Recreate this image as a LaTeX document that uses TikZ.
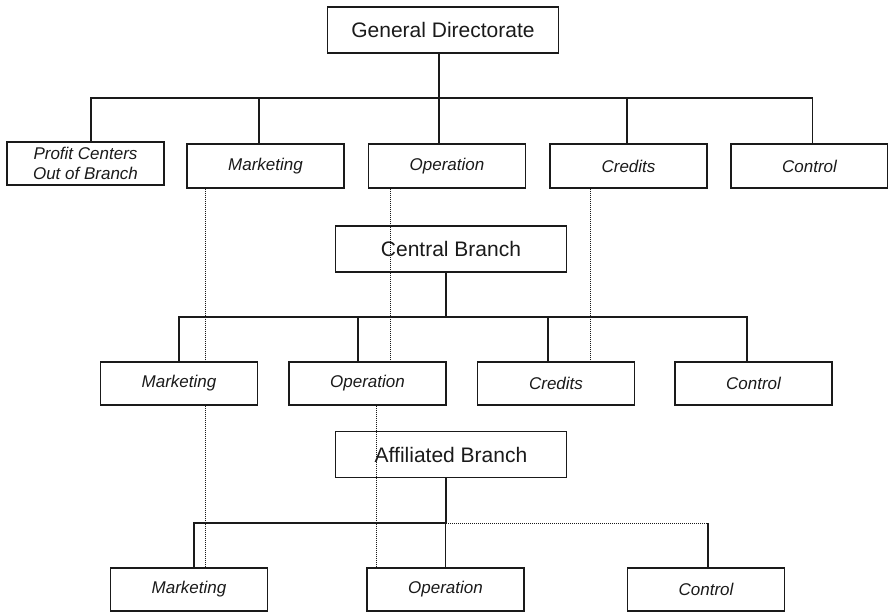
\documentclass[tikz,border=0pt]{standalone}
\usepackage{fontspec}
\setmainfont{Liberation Sans}
\usetikzlibrary{positioning,calc}
\definecolor{ink}{HTML}{1A1A1A}

\begin{document}
\begin{tikzpicture}[x=1pt, y=-1pt,
  text=ink,
  head/.style={draw=ink, line width=1.4pt, minimum width=231pt, minimum height=46pt, inner sep=0pt, font=\fontsize{21}{25}\selectfont},
  unit/.style={draw=ink, line width=1.4pt, minimum width=157pt, minimum height=43pt, inner sep=0pt, align=center, font=\fontsize{17}{20}\selectfont\itshape},
  tree/.style={draw=ink, line width=1.3pt},
  link/.style={draw=ink, line width=0.8pt, dash pattern=on 1pt off 1pt}
]
\useasboundingbox (0,0) rectangle (888,611);

% ---- general directorate
\node[head] (gd) at (443,30) {General Directorate};
\node[unit] (pc)  at (85.5,163.5) {Profit Centers\\Out of Branch};
\node[unit, minimum height=44pt] (mk1) at (265.5,166) {Marketing};
\node[unit, minimum height=44pt] (op1) at (447,166) {Operation};
\node[unit, minimum height=44pt] (cr1) at (628.5,166) {Credits};
\node[unit, minimum height=44pt] (ct1) at (809.5,166) {Control};
\coordinate (bar1) at (439,98);
\foreach \n/\dx in {pc/5.5, mk1/-6.5, op1/-8, cr1/-1.5, ct1/3}
  \draw[tree] ([xshift=-4pt]gd.south) -- ([xshift=-4pt]gd.south |- bar1) -| ([xshift=\dx pt]\n.north);

% ---- central branch
\node[head] (cb) at (451,249) {Central Branch};
\node[unit] (mk2) at (179,383.5) {Marketing};
\node[unit] (op2) at (367.5,383.5) {Operation};
\node[unit] (cr2) at (556,383.5) {Credits};
\node[unit] (ct2) at (753.5,383.5) {Control};
\coordinate (bar2) at (446,317);
\foreach \n/\dx in {mk2/0, op2/-9.5, cr2/-8, ct2/-6.5}
  \draw[tree] ([xshift=-5pt]cb.south) -- ([xshift=-5pt]cb.south |- bar2) -| ([xshift=\dx pt]\n.north);

% ---- affiliated branch
\node[head] (ab) at (451,454.5) {Affiliated Branch};
\node[unit] (mk3) at (189,589.5) {Marketing};
\node[unit] (op3) at (445.5,589.5) {Operation};
\node[unit] (ct3) at (706,589.5) {Control};
\coordinate (bar3) at (446,523);
\foreach \n/\dx in {mk3/5, op3/0}
  \draw[tree] ([xshift=-5pt]ab.south) -- ([xshift=-5pt]ab.south |- bar3) -| ([xshift=\dx pt]\n.north);
\draw[link] ([xshift=-5pt]ab.south |- bar3) -- ([xshift=2pt]ct3.north |- bar3);
\draw[tree] ([xshift=2pt]ct3.north |- bar3) -- ([xshift=2pt]ct3.north);

% ---- dotted functional links
\draw[link] ([xshift=19pt]mk1.south west) -- ([xshift=19pt]mk1.south west |- mk2.north);
\draw[link] ([xshift=106pt]mk2.south west) -- ([xshift=106pt]mk2.south west |- mk3.north);
\draw[link] ([xshift=23pt]op1.south west) -- ([xshift=23pt]op1.south west |- op2.north);
\draw[link] ([xshift=88pt]op2.south west) -- ([xshift=88pt]op2.south west |- op3.north);
\draw[link] ([xshift=41pt]cr1.south west) -- ([xshift=41pt]cr1.south west |- cr2.north);
\end{tikzpicture}
\end{document}
